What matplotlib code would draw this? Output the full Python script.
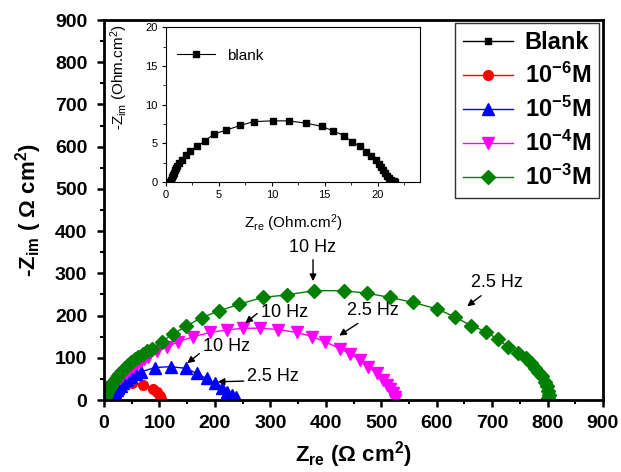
import matplotlib
matplotlib.use("Agg")
import matplotlib.pyplot as plt
from matplotlib.ticker import MultipleLocator

plt.rcParams['font.family'] = ['Liberation Sans', 'DejaVu Sans']
plt.rcParams['mathtext.fontset'] = 'custom'
plt.rcParams['mathtext.rm'] = 'Liberation Sans'
plt.rcParams['mathtext.it'] = 'Liberation Sans:italic'
plt.rcParams['mathtext.bf'] = 'Liberation Sans:bold'

# ---------------- data ----------------
blank_x = [0.3, 0.45, 0.55, 0.65, 0.75, 0.85, 0.95, 1.05, 1.2, 1.5, 1.9, 2.3, 2.9, 3.7, 4.5,
           5.7, 7.0, 8.3, 10.1, 11.6, 13.2, 14.7, 15.8, 16.8, 17.6, 18.3, 18.9, 19.4, 19.8,
           20.1, 20.3, 20.5, 20.7, 20.9, 21.1, 21.3, 21.5, 21.6]
blank_y = [0.0, 0.3, 0.6, 0.9, 1.2, 1.5, 1.8, 2.1, 2.4, 2.8, 3.5, 4.0, 4.6, 5.3, 6.2,
           6.7, 7.3, 7.8, 7.9, 7.9, 7.6, 7.2, 6.6, 6.0, 5.2, 4.6, 3.9, 3.4, 2.8,
           2.3, 1.9, 1.5, 1.1, 0.8, 0.5, 0.3, 0.1, 0.0]

m6_x = [12, 15, 20, 26, 35, 50, 71, 88, 95, 101, 102]
m6_y = [2, 6, 12, 24, 36, 41, 36, 26, 18, 10, 3]

m5_x = [14, 15, 17, 20, 23, 26, 30, 35, 41, 48, 57, 67, 92, 120, 148, 167, 185, 200, 212, 221, 230, 238, 240]
m5_y = [2, 6, 12, 18, 23, 28, 34, 40, 47, 55, 61, 67, 77, 79, 75, 63, 51, 40, 29, 20, 12, 6, 1]

m4_x = [3, 5, 8, 11, 15, 19, 23, 28, 33, 39, 45, 52, 59, 66, 73, 80, 95, 113, 134, 161, 191, 221,
        251, 281, 314, 348, 375, 399, 425, 444, 462, 477, 492, 503, 510, 516, 522, 524, 525]
m4_y = [3, 9, 16, 23, 30, 37, 44, 51, 58, 65, 72, 79, 86, 92, 97, 103, 115, 126, 138, 150, 160, 166,
        170, 170, 167, 160, 150, 138, 122, 109, 95, 79, 63, 47, 36, 25, 16, 7, 1]

m3_x = [2, 4, 6, 9, 12, 15, 19, 23, 27, 32, 37, 43, 49, 55, 62, 70, 78, 86, 104, 124, 148, 176, 207,
        244, 286, 330, 378, 432, 474, 516, 558, 600, 633, 662, 689, 710, 729, 747, 762, 771, 777,
        783, 790, 796, 799, 801, 803, 801, 800]
m3_y = [5, 12, 19, 26, 33, 40, 47, 54, 61, 68, 75, 82, 89, 96, 103, 110, 116, 122, 138, 156, 175, 195,
        211, 227, 243, 249, 259, 259, 253, 243, 231, 216, 197, 176, 162, 144, 126, 112, 99, 87, 77,
        67, 57, 43, 33, 22, 12, 5, 1]

series_labels = ['Blank', r'10$^{\mathbf{-6}}$M', r'10$^{\mathbf{-5}}$M',
                 r'10$^{\mathbf{-4}}$M', r'10$^{\mathbf{-3}}$M']

# annotations: (text, text_xy, arrow_tail, arrow_head)
annots = [
    ('10 Hz', (377, 362), (377, 339), (377, 275)),
    ('2.5 Hz', (709, 279), (684, 251), (651, 218)),
    ('10 Hz', (326, 208), (280, 209), (251, 178)),
    ('2.5 Hz', (485, 213), (462, 185), (420, 149)),
    ('10 Hz', (221, 126), (176, 114), (146, 83)),
    ('2.5 Hz', (305, 55), (257, 45), (200, 43)),
]

# ---------------- figure ----------------
fig = plt.figure(figsize=(6.21, 4.72), dpi=100)
ax = fig.add_axes([0.1675, 0.1525, 0.8035, 0.805])

ax.plot(blank_x, blank_y, '-s', color='black', ms=4, lw=1, label=series_labels[0])
ax.plot(m6_x, m6_y, '-o', color='#ff0000', ms=7, lw=1, label=series_labels[1])
ax.plot(m5_x, m5_y, '-^', color='#0000ff', ms=8, lw=1, label=series_labels[2])
ax.plot(m4_x, m4_y, '-v', color='#ff00ff', ms=8, lw=1, label=series_labels[3])
ax.plot(m3_x, m3_y, '-D', color='#008000', ms=7, lw=1, label=series_labels[4])

ax.set_xlim(0, 900)
ax.set_ylim(0, 900)
ax.xaxis.set_major_locator(MultipleLocator(100))
ax.xaxis.set_minor_locator(MultipleLocator(50))
ax.yaxis.set_major_locator(MultipleLocator(100))
ax.yaxis.set_minor_locator(MultipleLocator(50))
ax.tick_params(which='major', direction='out', length=5, width=1.8, labelsize=14)
ax.tick_params(axis='x', which='major', pad=6)
ax.tick_params(axis='y', which='major', pad=7)
ax.tick_params(which='minor', direction='out', length=3, width=1.5)
for lab in ax.get_xticklabels() + ax.get_yticklabels():
    lab.set_fontweight('bold')
for s in ax.spines.values():
    s.set_linewidth(2)

ax.set_xlabel(r'Z$_{\mathbf{re}}$ ($\mathbf{\Omega}$ cm$^{\mathbf{2}}$)', fontsize=16, fontweight='bold', labelpad=5)
ax.set_ylabel(r'-Z$_{\mathbf{im}}$ ( $\mathbf{\Omega}$ cm$^{\mathbf{2}}$)', fontsize=16, fontweight='bold', labelpad=8)

for txt, txy, tail, head in annots:
    ax.text(txy[0], txy[1], txt, fontsize=13, ha='center', va='center')
    ax.annotate('', xy=head, xytext=tail,
                arrowprops=dict(arrowstyle='-|>', color='black', lw=1, mutation_scale=10))

leg = ax.legend(loc='upper right', bbox_to_anchor=(0.992, 0.992), borderaxespad=0,
                prop={'weight': 'bold', 'size': 17}, frameon=True, fancybox=False,
                edgecolor='black', labelspacing=0.37, handlelength=2.1, handletextpad=0.5,
                borderpad=0.35)
leg.get_frame().set_linewidth(1)

# ---------------- inset ----------------
ins = fig.add_axes([0.2673, 0.6144, 0.409, 0.328])
ins.plot(blank_x, blank_y, '-s', color='black', ms=4.5, lw=0.8, label='blank')
ins.set_xlim(0, 24)
ins.set_ylim(0, 20)
ins.xaxis.set_major_locator(MultipleLocator(5))
ins.xaxis.set_minor_locator(MultipleLocator(2.5))
ins.yaxis.set_major_locator(MultipleLocator(5))
ins.yaxis.set_minor_locator(MultipleLocator(2.5))
ins.tick_params(which='major', direction='out', length=3, width=0.8, labelsize=8, pad=3)
ins.tick_params(which='minor', direction='out', length=2, width=0.6)
for s in ins.spines.values():
    s.set_linewidth(0.8)
ins.set_xlabel(r'Z$_{\mathrm{re}}$ (Ohm.cm$^{\mathrm{2}}$)', fontsize=11, labelpad=9)
ins.set_ylabel(r'-Z$_{\mathrm{im}}$ (Ohm.cm$^{\mathrm{2}}$)', fontsize=11)
ins.yaxis.set_label_coords(-0.14, 0.68)
ins.legend(loc='upper left', frameon=False, fontsize=11, handlelength=2.5,
           bbox_to_anchor=(0.0, 0.93), borderaxespad=0.3)

fig.savefig('out.png', dpi=100)
